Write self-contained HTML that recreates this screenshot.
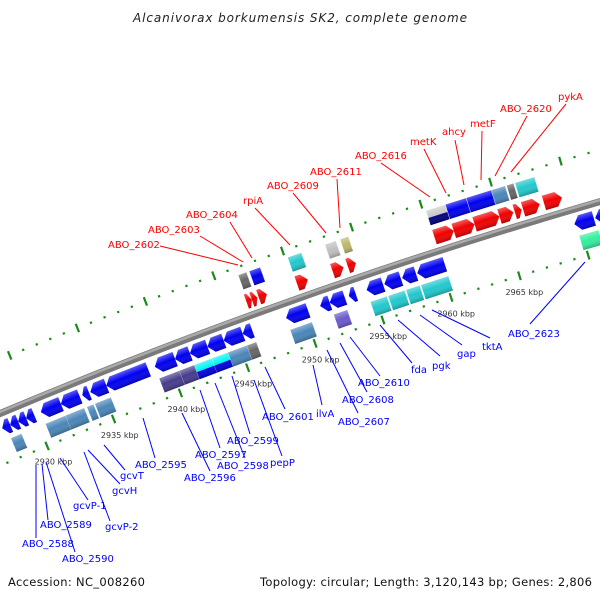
<!DOCTYPE html>
<html><head><meta charset="utf-8"><style>
html,body{margin:0;padding:0;background:#fff;}
svg{display:block;}
text{font-family:"DejaVu Sans","Liberation Sans",sans-serif;}
</style></head><body>
<svg id="chart" width="600" height="600" viewBox="0 0 600 600" xmlns="http://www.w3.org/2000/svg">
<defs>
<linearGradient id="shade" x1="0" y1="0" x2="0" y2="1">
<stop offset="0" stop-color="#fff" stop-opacity="0.35"/>
<stop offset="0.45" stop-color="#fff" stop-opacity="0"/>
<stop offset="1" stop-color="#000" stop-opacity="0.25"/>
</linearGradient>
</defs>
<text x="300" y="22" text-anchor="middle" font-size="12" font-style="italic" fill="#222" textLength="334">Alcanivorax borkumensis SK2, complete genome</text>
<g id="ticks"></g>
<g id="backbone"></g>
<g id="genes"></g>
<g id="leaders"></g>
<g id="labels"></g>
<text x="8" y="586" font-size="11.5" fill="#111" textLength="137">Accession: NC_008260</text>
<text x="592" y="586" text-anchor="end" font-size="11.5" fill="#111" textLength="332">Topology: circular; Length: 3,120,143 bp; Genes: 2,806</text>
</svg>
<script>
// ---- data (kbp) ----
const revStarts = [2927.6,2928.2,2928.8,2929.4,2930.5,2932.0,2933.6,2934.2,2935.4,2939.0,2940.5,2941.6,2942.9,2944.1,2945.5,2948.7,2951.2,2951.9,2953.3,2954.6,2955.9,2957.2,2958.3,2969.7,2971.2,2972.0];
const revEnds   = [2928.2,2928.8,2929.4,2930.0,2932.0,2933.4,2934.1,2935.4,2938.5,2940.5,2941.6,2942.9,2944.1,2945.5,2946.2,2950.3,2951.9,2953.0,2953.8,2955.8,2957.1,2958.2,2960.3,2971.1,2971.9,2973.0];
const fwdStarts = [2946.5,2946.9,2947.4,2950.2,2952.8,2953.9,2960.2,2961.6,2963.1,2964.9,2966.0,2966.6,2968.1];
const fwdEnds   = [2946.9,2947.3,2948.0,2951.0,2953.6,2954.5,2961.6,2963.1,2964.9,2965.9,2966.5,2967.8,2969.4];
const lowBoxStarts = [2927.9,2930.5,2932.0,2933.6,2934.2,2939.0,2940.5,2941.6,2942.9,2944.1,2945.5,2948.7,2951.9,2954.6,2955.9,2957.2,2958.3,2969.8];
const lowBoxEnds   = [2928.7,2932.0,2933.4,2934.1,2935.4,2940.5,2941.6,2942.9,2944.1,2945.5,2946.2,2950.3,2952.9,2955.8,2957.1,2958.2,2960.3,2971.2];
const lowBoxCats   = ['steel','steel','steel','steel','steel','darkslate','darkslate','cyanblue','cyanblue','steel','gray','steel','slate','cyan','cyan','cyan','cyan','aqua'];
const upBoxStarts = [2946.6,2947.4,2950.2,2952.9,2954.0,2960.2,2961.6,2963.1,2964.9,2966.0,2966.6];
const upBoxEnds   = [2947.2,2948.2,2951.2,2953.7,2954.6,2961.6,2963.1,2964.9,2965.9,2966.5,2968.0];
const upBoxCats   = ['gray','blue','cyan','silver','khaki','silvernavy','blue','blue','steel','gray','cyan'];
const tickStart = 2922, tickEnd = 2980;
const tickLabels = ['2930 kbp','2935 kbp','2940 kbp','2945 kbp','2950 kbp','2955 kbp','2960 kbp','2965 kbp'];
const tickLabelKbp = [2930,2935,2940,2945,2950,2955,2960,2965];

// ---- geometry ----
const R = 5500, CX = 2129, CY = 5484.8, A0 = -112.45, DA = 0.1508;
function ang(k){ return A0 + (k-2930)*DA; }
function P(k, off){ const a = ang(k)*Math.PI/180; const r = R - off; return [CX + r*Math.cos(a), CY + r*Math.sin(a)]; }
function pxLen(k1,k2){ return (k2-k1)*DA*Math.PI/180*R; }
const NS = 'http://www.w3.org/2000/svg';
function mk(tag, attrs, parent){ const e = document.createElementNS(NS, tag); for (const k in attrs) e.setAttribute(k, attrs[k]); parent.appendChild(e); return e; }
const COLORS = {steel:'#4a86b8', darkslate:'#463c8c', slate:'#6a5acd', cyan:'#22c8cc', gray:'#666', silver:'#c0c0c0', khaki:'#bdb76b', blue:'#0000f0', aqua:'#33ee9e', red:'#f00000'};

// backbone
const bb = document.getElementById('backbone');
const b1 = P(2915,0), b2 = P(2985,0);
const bpath = mk('path', {d:`M${b1[0]},${b1[1]} A${R},${R} 0 0 1 ${b2[0]},${b2[1]}`, fill:'none', stroke:'#7a7a7a', 'stroke-width':7}, bb);


const c1 = P(2915,-1.5), c2 = P(2985,-1.5);
const hl = mk('path', {d:`M${c1[0]},${c1[1]} A${R+1.5},${R+1.5} 0 0 1 ${c2[0]},${c2[1]}`, fill:'none', stroke:'#aaaaaa', 'stroke-width':2.5}, bb);



// ticks
const tg = document.getElementById('ticks');
function tickRing(off, name){
  for (let k = tickStart; k <= tickEnd; k++){
    const a = ang(k);
    const p = P(k, off);
    let el;
    if (k % 5 === 0){
      el = mk('rect', {x:-1, y:-4.5, width:2.2, height:9, fill:'#1a8a1a', transform:`translate(${p[0]},${p[1]}) rotate(${a+90})`}, tg);
    } else {
      el = mk('rect', {x:-1, y:-1, width:2.2, height:2.2, fill:'#1a8a1a', transform:`translate(${p[0]},${p[1]}) rotate(${a+90})`}, tg);
    }
    
    
  }
}
tickRing(48, 'lower-tick');
tickRing(-50, 'upper-tick');
tickLabelKbp.forEach((k,i)=>{
  const p = P(k, 65);
  const t = mk('text', {x:p[0], y:p[1]+3, 'text-anchor':'middle', 'font-size':8, fill:'#333'}, tg);
  t.textContent = tickLabels[i];
  
  
});

// genes
const gg = document.getElementById('genes');
function place(k1,k2){ const m=(k1+k2)/2; const p=P(m,0); return `translate(${p[0]},${p[1]}) rotate(${ang(m)+90})`; }
function arrow(k1,k2,y0,y1,dir,fill,name){
  const L = pxLen(k1,k2), h = Math.min(6, L*0.6), ym=(y0+y1)/2, a=-L/2, b=L/2;
  const pts = dir>0
    ? `${a},${y0} ${b-h},${y0} ${b},${ym} ${b-h},${y1} ${a},${y1}`
    : `${b},${y0} ${a+h},${y0} ${a},${ym} ${a+h},${y1} ${b},${y1}`;
  const g = mk('g', {transform:place(k1,k2)}, gg);
  
  
  mk('polygon', {points:pts, fill:fill}, g);
  mk('polygon', {points:pts, fill:'url(#shade)'}, g);
}
function box(k1,k2,y0,y1,cat,name){
  const L = pxLen(k1,k2);
  const g = mk('g', {transform:place(k1,k2)}, gg);
  
  
  if (cat === 'cyanblue' || cat === 'silvernavy'){
    const top = cat==='cyanblue' ? '#00f4f4' : '#c8c8c8', bot = cat==='cyanblue' ? '#0000e0' : '#000080';
    const mid=(y0+y1)/2;
    mk('rect', {x:-L/2, y:y0, width:L, height:mid-y0, fill:top}, g);
    mk('rect', {x:-L/2, y:mid, width:L, height:y1-mid, fill:bot}, g);
  } else {
    mk('rect', {x:-L/2, y:y0, width:L, height:y1-y0, fill:COLORS[cat]}, g);
  }
  mk('rect', {x:-L/2, y:y0, width:L, height:y1-y0, fill:'url(#shade)'}, g);
  mk('line', {x1:L/2, y1:y0, x2:L/2, y2:y1, stroke:'#fff', 'stroke-width':0.8, 'stroke-opacity':0.8}, g);
}
revStarts.forEach((s,i)=>arrow(s, revEnds[i], 7, 22, -1, COLORS.blue, 'reverse-gene'));
fwdStarts.forEach((s,i)=>arrow(s, fwdEnds[i], -22, -7, 1, COLORS.red, 'forward-gene'));
lowBoxStarts.forEach((s,i)=>box(s, lowBoxEnds[i], 27, 42, lowBoxCats[i], 'reverse-cog-box'));
upBoxStarts.forEach((s,i)=>box(s, upBoxEnds[i], -42, -27, upBoxCats[i], 'forward-cog-box'));

// labels
const redLabels = [
 ['ABO_2602',108,248,160,246,238,265],['ABO_2603',148,233,200,236,243,262],['ABO_2604',186,218,230,222,252,258],
 ['rpiA',243,204,255,208,290,245],['ABO_2609',267,189,293,193,326,233],['ABO_2611',310,175,337,179,340,228],
 ['ABO_2616',355,159,381,163,430,197],['metK',410,145,424,149,446,193],['ahcy',442,135,455,140,464,185],
 ['metF',470,127,482,131,481,180],['ABO_2620',500,112,527,116,495,176],['pykA',558,100,566,104,511,172]];
const blueLabels = [
 ['ABO_2588',22,547,36,538,36,465],['ABO_2589',40,528,48,520,42,464],['ABO_2590',62,562,75,552,46,462],
 ['gcvP-1',73,509,88,500,60,458],['gcvP-2',105,530,110,521,84,452],['gcvH',112,494,120,484,88,450],
 ['gcvT',120,479,125,470,104,445],['ABO_2595',135,468,155,458,143,418],['ABO_2596',184,481,210,471,182,413],
 ['ABO_2597',195,458,220,448,200,390],['ABO_2598',217,469,245,458,215,383],['ABO_2599',227,444,250,434,232,376],
 ['pepP',270,466,282,456,254,380],['ABO_2601',262,420,285,409,265,367],['ilvA',316,417,322,405,313,365],
 ['ABO_2607',338,425,358,413,327,350],['ABO_2608',342,403,367,392,340,343],['ABO_2610',358,386,380,376,350,337],
 ['fda',411,373,412,363,380,325],['pgk',432,369,440,356,398,320],['gap',457,357,462,345,420,315],
 ['tktA',482,350,490,338,432,310],['ABO_2623',508,337,530,324,585,262]];
const lg = document.getElementById('leaders'), lb = document.getElementById('labels');
function addLabels(arr, color, cls){
  arr.forEach(d=>{
    const ln = mk('line', {x1:d[3], y1:d[4], x2:d[5], y2:d[6], stroke:color, 'stroke-width':1}, lg);
    
    
    const t = mk('text', {x:d[1], y:d[2], 'font-size':10, fill:color}, lb);
    t.textContent = d[0];
    
    
  });
}
addLabels(redLabels, '#ff0000', 'forward-gene');
addLabels(blueLabels, '#0000ff', 'reverse-gene');
</script>
</body></html>
